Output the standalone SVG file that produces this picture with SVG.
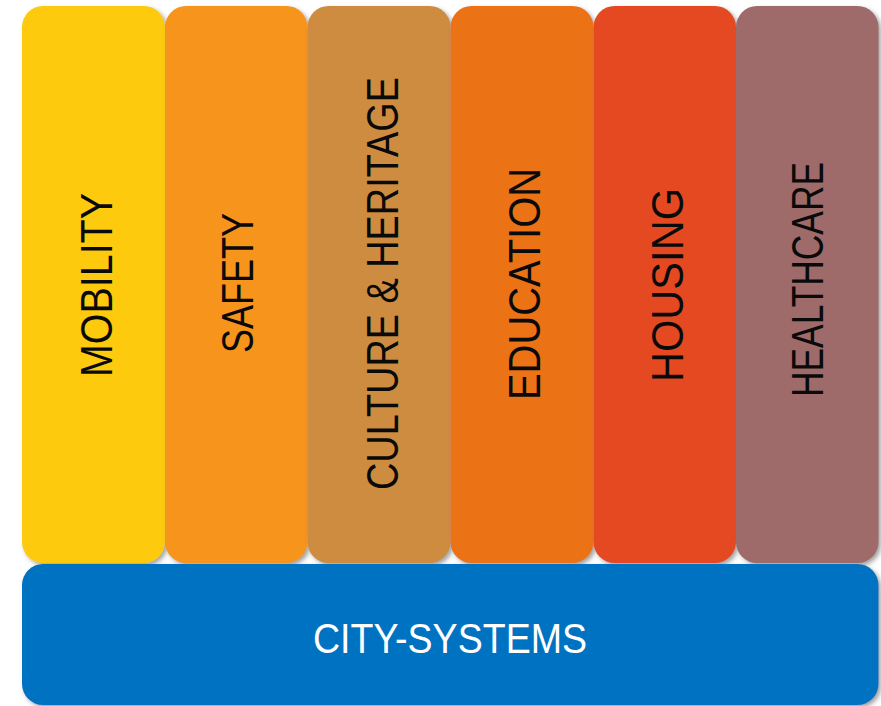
<svg xmlns="http://www.w3.org/2000/svg" width="881" height="706" viewBox="0 0 881 706">
  <defs>
    <filter id="sh" x="-10%" y="-10%" width="125%" height="125%">
      <feDropShadow dx="2.5" dy="2.5" stdDeviation="2" flood-color="#666" flood-opacity="0.6"/>
    </filter>
  </defs>
  <style>
    .col { filter: url(#sh); }
    .lbl { font-family: "Liberation Sans", Arial, sans-serif; font-size: 44px; fill: #0a0a0a; text-anchor: middle; }
    .base { font-family: "Liberation Sans", Arial, sans-serif; font-size: 42px; fill: #ffffff; text-anchor: middle; }
  </style>
  <rect width="881" height="706" fill="#ffffff"/>
  <g id="mobility">
    <rect class="col" x="22" y="6" width="143" height="557" rx="21" fill="#FECA0A"/>
    <text class="lbl" transform="translate(112,285) rotate(-90)" textLength="184" lengthAdjust="spacingAndGlyphs">MOBILITY</text>
  </g>
  <g id="safety">
    <rect class="col" x="165" y="6" width="142.5" height="557" rx="21" fill="#F7941E"/>
    <text class="lbl" transform="translate(253,283) rotate(-90)" textLength="140" lengthAdjust="spacingAndGlyphs">SAFETY</text>
  </g>
  <g id="culture">
    <rect class="col" x="307.5" y="6" width="143" height="557" rx="21" fill="#CE8C3F"/>
    <text class="lbl" transform="translate(398,283.5) rotate(-90)" textLength="413" lengthAdjust="spacingAndGlyphs">CULTURE &amp; HERITAGE</text>
  </g>
  <g id="education">
    <rect class="col" x="450.5" y="6" width="143" height="557" rx="21" fill="#EC7217"/>
    <text class="lbl" transform="translate(540,284) rotate(-90)" textLength="232" lengthAdjust="spacingAndGlyphs">EDUCATION</text>
  </g>
  <g id="housing">
    <rect class="col" x="593.5" y="6" width="142.5" height="557" rx="21" fill="#E54A22"/>
    <text class="lbl" transform="translate(683,285) rotate(-90)" textLength="194" lengthAdjust="spacingAndGlyphs">HOUSING</text>
  </g>
  <g id="healthcare">
    <rect class="col" x="736" y="6" width="142.5" height="557" rx="21" fill="#9E6B6B"/>
    <text class="lbl" transform="translate(823,279.5) rotate(-90)" textLength="235" lengthAdjust="spacingAndGlyphs">HEALTHCARE</text>
  </g>
  <g id="city-systems">
    <rect class="col" x="22" y="564" width="856.5" height="141" rx="21" fill="#0072C2"/>
    <text class="base" x="450" y="653" textLength="274" lengthAdjust="spacingAndGlyphs">CITY-SYSTEMS</text>
  </g>
  <g id="connectors"></g>
</svg>
